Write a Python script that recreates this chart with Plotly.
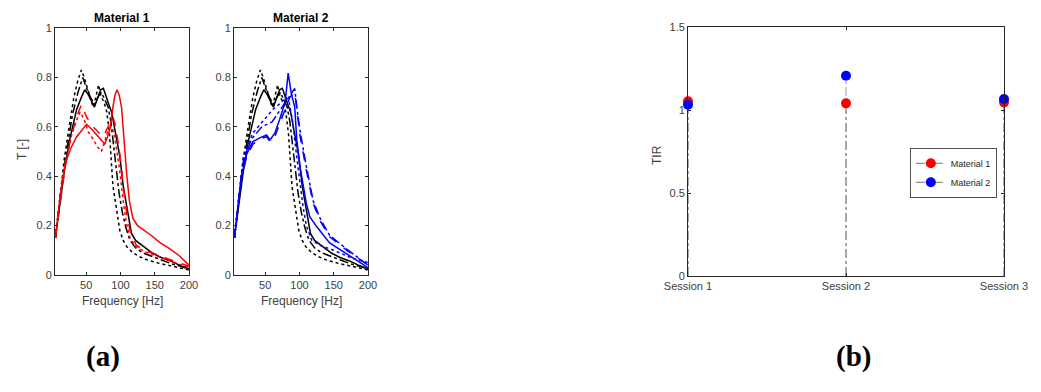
import plotly.graph_objects as go

# ---------------- data: panel (a) transmissibility curves ----------------
bk_sol_f = [5, 12, 18, 26, 36, 43, 48, 53, 58, 62, 67, 71, 75, 79, 83, 87, 91, 95, 99, 104, 109, 116, 122, 128, 137, 147, 160, 172, 186, 200]
bk_sol_t = [0.15, 0.3, 0.42, 0.55, 0.67, 0.72, 0.75, 0.73, 0.7, 0.68, 0.72, 0.75, 0.756, 0.72, 0.69, 0.66, 0.6, 0.55, 0.48, 0.36, 0.276, 0.168, 0.14, 0.128, 0.11, 0.088, 0.07, 0.058, 0.04, 0.025]

bk_dd_f = [5, 12, 20, 30, 38, 45, 50, 56, 62, 67, 72, 77, 82, 86, 90, 94, 98, 103, 108, 114, 122, 132, 150, 175, 200]
bk_dd_t = [0.15, 0.32, 0.48, 0.65, 0.74, 0.8, 0.76, 0.72, 0.69, 0.72, 0.74, 0.71, 0.68, 0.62, 0.52, 0.42, 0.33, 0.25, 0.19, 0.14, 0.11, 0.09, 0.07, 0.045, 0.025]

bk_dot_f = [5, 12, 18, 25, 32, 38, 43, 47, 52, 57, 60, 64, 68, 72, 76, 80, 84, 89, 94, 99, 104, 109, 118, 128, 140, 157, 180, 200]
bk_dot_t = [0.15, 0.33, 0.47, 0.6, 0.72, 0.79, 0.83, 0.8, 0.75, 0.7, 0.68, 0.72, 0.77, 0.72, 0.7, 0.66, 0.57, 0.36, 0.26, 0.18, 0.14, 0.115, 0.09, 0.074, 0.06, 0.047, 0.033, 0.02]

rd_sol_f = [5, 12, 19, 27, 36, 44, 50.5, 58, 64, 70, 77, 81, 84.5, 89, 92, 95, 98, 101.5, 105, 109, 113, 118, 125, 135, 145, 158, 170, 185, 200]
rd_sol_t = [0.15, 0.32, 0.45, 0.51, 0.56, 0.59, 0.61, 0.59, 0.57, 0.55, 0.53, 0.56, 0.59, 0.68, 0.73, 0.75, 0.73, 0.68, 0.55, 0.41, 0.3, 0.23, 0.2, 0.18, 0.16, 0.13, 0.11, 0.08, 0.04]

rd_dash_f = [5, 12, 20, 28, 36, 43, 50.5, 55, 60, 67, 75, 80, 84.5, 89, 93, 96, 99, 104, 109, 114, 123, 135, 147, 162, 177, 200]
rd_dash_t = [0.15, 0.3, 0.45, 0.56, 0.64, 0.69, 0.64, 0.62, 0.6, 0.58, 0.56, 0.59, 0.615, 0.64, 0.6, 0.55, 0.49, 0.36, 0.25, 0.18, 0.12, 0.1, 0.088, 0.075, 0.06, 0.035]

rd_dot_f = [5, 12, 20, 28, 35, 41, 47, 53, 60, 66, 72, 77, 82, 87, 91, 95, 99, 103, 108, 114, 122, 135, 150, 170, 200]
rd_dot_t = [0.15, 0.32, 0.46, 0.56, 0.62, 0.66, 0.63, 0.58, 0.55, 0.52, 0.5, 0.54, 0.59, 0.6, 0.57, 0.5, 0.42, 0.32, 0.22, 0.15, 0.115, 0.095, 0.08, 0.06, 0.03]

bl_sol_f = [5, 15, 23, 32, 42, 52, 57, 64, 71, 79, 83.5, 88, 93, 96, 100, 105, 110, 115, 125, 144, 168, 200]
bl_sol_t = [0.15, 0.4, 0.49, 0.54, 0.555, 0.567, 0.547, 0.574, 0.63, 0.7, 0.817, 0.735, 0.68, 0.55, 0.45, 0.36, 0.29, 0.236, 0.196, 0.13, 0.088, 0.03]

bl_dash_f = [5, 15, 23, 32, 42, 52, 57, 64, 72, 80, 86, 93, 97, 101, 110, 120, 130, 144, 169, 200]
bl_dash_t = [0.15, 0.39, 0.48, 0.53, 0.55, 0.56, 0.54, 0.56, 0.62, 0.68, 0.72, 0.74, 0.65, 0.56, 0.425, 0.29, 0.22, 0.155, 0.1, 0.04]

bl_dd_f = [5, 18, 30, 45, 60, 70, 80, 88, 93, 97, 101, 110, 120, 130, 144, 169, 200]
bl_dd_t = [0.15, 0.46, 0.55, 0.6, 0.62, 0.66, 0.7, 0.73, 0.755, 0.66, 0.58, 0.44, 0.3, 0.23, 0.16, 0.105, 0.04]

bl_dot_f = [5, 18, 32, 52, 61, 74, 80, 85, 90, 95, 100, 105, 110, 118, 130, 150, 175, 200]
bl_dot_t = [0.15, 0.48, 0.575, 0.64, 0.67, 0.7, 0.72, 0.7, 0.62, 0.5, 0.38, 0.28, 0.2, 0.14, 0.12, 0.1, 0.07, 0.05]

freq_ticks = [50, 100, 150, 200]
t_ticks = [0, 0.2, 0.4, 0.6, 0.8, 1]
t_tick_labels = ["0", "0.2", "0.4", "0.6", "0.8", "1"]

# ---------------- data: panel (b) TIR ----------------
sessions = ["Session 1", "Session 2", "Session 3"]
tir_m1 = [1.052, 1.04, 1.046]
tir_m2 = [1.032, 1.206, 1.066]
tir_ticks = [0, 0.5, 1, 1.5]
tir_tick_labels = ["0", "0.5", "1", "1.5"]

# ---------------- figure ----------------
W, H = 1041, 392
fig = go.Figure()

def add_curve(f, t, color, dash, xa, ya):
    fig.add_trace(go.Scatter(x=f, y=t, mode="lines", xaxis=xa, yaxis=ya,
                             line=dict(color=color, width=1.5, dash=dash),
                             showlegend=False, hoverinfo="skip"))

for xa, ya, col, curves in [
    ("x", "y", "#ff0000", [(rd_sol_f, rd_sol_t, "solid"), (rd_dash_f, rd_dash_t, "dash"), (rd_dot_f, rd_dot_t, "dot")]),
    ("x2", "y2", "#0000ff", [(bl_sol_f, bl_sol_t, "solid"), (bl_dash_f, bl_dash_t, "dash"), (bl_dd_f, bl_dd_t, "dashdot"), (bl_dot_f, bl_dot_t, "dot")]),
]:
    add_curve(bk_dot_f, bk_dot_t, "black", "dot", xa, ya)
    add_curve(bk_dd_f, bk_dd_t, "black", "dashdot", xa, ya)
    add_curve(bk_sol_f, bk_sol_t, "black", "solid", xa, ya)
    for f, t, d in curves:
        add_curve(f, t, col, d, xa, ya)

# stems (panel b)
sx = [1, 2, 3]
for vals in (tir_m1, tir_m2):
    xs, ys = [], []
    for i, v in enumerate(vals):
        xs += [sx[i], sx[i], None]
        ys += [0, v, None]
    fig.add_trace(go.Scatter(x=xs, y=ys, mode="lines", xaxis="x3", yaxis="y3",
                             line=dict(color="#555555", width=0.6, dash="dashdot"),
                             showlegend=False, hoverinfo="skip"))

for name, vals, col in [("Material 1", tir_m1, "#ff0000"), ("Material 2", tir_m2, "#0000ff")]:
    xs, ys = [], []
    for i, v in enumerate(vals):
        xs += [sx[i], None]
        ys += [v, None]
    fig.add_trace(go.Scatter(x=xs[:-1], y=ys[:-1], mode="lines+markers", name=name,
                             xaxis="x3", yaxis="y3", cliponaxis=False, connectgaps=False,
                             line=dict(color="#555555", width=0.8, dash="dashdot"),
                             marker=dict(color=col, size=10, line=dict(width=0))))

def px2x(p):
    return p / W

def px2y(p):
    return 1 - p / H

axis_common = dict(showline=True, linecolor="#262626", linewidth=0.8, mirror="ticks",
                   ticks="inside", ticklen=3, tickcolor="#262626", showgrid=False,
                   zeroline=False, automargin=False,
                   tickfont=dict(family="Liberation Sans", size=11, color="#404040"))

fig.update_layout(
    width=W, height=H, margin=dict(l=0, r=0, t=0, b=0, autoexpand=False),
    paper_bgcolor="white", plot_bgcolor="white",
    xaxis=dict(domain=[px2x(55), px2x(189)], range=[4.4, 200], tickvals=freq_ticks, anchor="y", **axis_common),
    yaxis=dict(domain=[px2y(275), px2y(28)], range=[0, 1], tickvals=t_ticks, ticktext=t_tick_labels, anchor="x", **axis_common),
    xaxis2=dict(domain=[px2x(234), px2x(368)], range=[4.4, 200], tickvals=freq_ticks, anchor="y2", **axis_common),
    yaxis2=dict(domain=[px2y(275), px2y(28)], range=[0, 1], tickvals=t_ticks, ticktext=t_tick_labels, anchor="x2", **axis_common),
    xaxis3=dict(domain=[px2x(688), px2x(1004)], range=[1, 3], tickvals=sx, ticktext=sessions, anchor="y3", **axis_common),
    yaxis3=dict(domain=[px2y(276), px2y(27)], range=[0, 1.5], tickvals=tir_ticks, ticktext=tir_tick_labels, anchor="x3", **axis_common),
    legend=dict(x=px2x(910), y=px2y(173), xanchor="left", yanchor="middle",
                bgcolor="white", bordercolor="#262626", borderwidth=0.8,
                font=dict(family="Liberation Sans", size=9, color="#262626"),
                tracegroupgap=0, itemwidth=30),
    showlegend=True,
)

ann = []
def text(x, y, s, size, bold=False, family="Liberation Sans", color="#404040", angle=0):
    ann.append(dict(x=px2x(x), y=px2y(y), xref="paper", yref="paper", text=("<b>%s</b>" % s) if bold else s,
                    showarrow=False, xanchor="center", yanchor="middle", textangle=angle,
                    font=dict(family=family, size=size, color=color)))

text(122, 18, "Material 1", 12, bold=True, color="black")
text(301, 18, "Material 2", 12, bold=True, color="black")
text(122, 301, "Frequency [Hz]", 12)
text(301, 301, "Frequency [Hz]", 12)
text(22, 150, "T [-]", 12, angle=-90)
text(657, 155, "TIR", 12, angle=-90)
text(103, 356, "(a)", 29, bold=True, family="Liberation Serif", color="black")
text(853, 356, "(b)", 29, bold=True, family="Liberation Serif", color="black")
fig.update_layout(annotations=ann)

fig.write_html("out.html", config={"displayModeBar": False},
               post_script="document.body.style.margin='0';document.body.style.overflow='hidden';")
